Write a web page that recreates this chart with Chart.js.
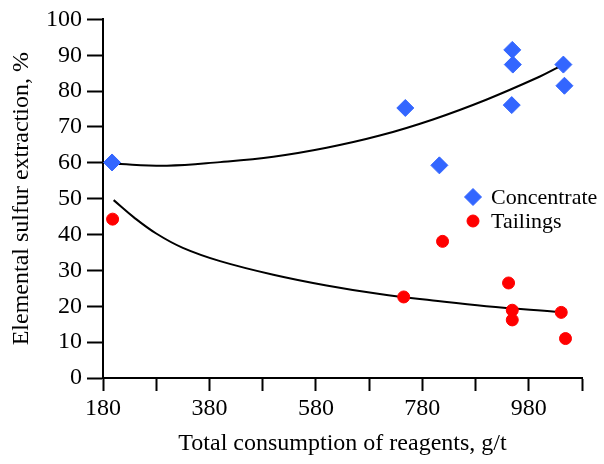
<!DOCTYPE html>
<html>
<head>
<meta charset="utf-8">
<script src="https://cdn.jsdelivr.net/npm/chart.js@4"></script>
<style>
  body { margin: 0; background: #fff; }
  #chart { display: block; }
</style>
</head>
<body>
<canvas id="chart" width="604" height="464"></canvas>
<script>
// Dados
const concX = [197, 748, 812, 949, 950, 948, 1045, 1047];
const concY = [60.1, 75.3, 59.3, 91.5, 87.4, 76.1, 87.4, 81.5];
const tailX = [198, 818, 745, 942, 949, 949, 1041, 1049];
const tailY = [44.3, 38.1, 22.6, 26.5, 18.9, 16.2, 18.3, 11.0];

// Linhas de tendência
const concTrendX = [197, 300, 400, 500, 600, 700, 800, 900, 1000, 1036];
const concTrendY = [59.8, 59.2, 60.2, 61.7, 64.2, 67.6, 72.1, 77.6, 84.0, 86.7];
const tailTrendX = [200, 238, 280, 330, 400, 500, 600, 700, 800, 900, 1030];
const tailTrendY = [49.6, 44.8, 40.3, 36.3, 32.6, 28.8, 25.8, 23.4, 21.6, 20.0, 18.5];

// Ticks
const xTicks = [180, 280, 380, 480, 580, 680, 780, 880, 980, 1080];
const xTickLabels = [180, 380, 580, 780, 980];

const seriesNames = ['Concentrate', 'Tailings'];
const xTitle = 'Total consumption of reagents, g/t';
const yTitle = 'Elemental sulfur extraction, %';

const toPoints = (xs, ys) => xs.map((x, i) => ({ x, y: ys[i] }));

const fonte = "'Liberation Serif', 'Times New Roman', serif";

// Legenda dentro da área do gráfico
const legendaInterna = {
  id: 'legendaInterna',
  afterDraw(chart) {
    const ctx = chart.ctx;
    const pos = [
      { x: 473, y: 197 },
      { x: 473, y: 221 }
    ];
    ctx.save();
    pos.forEach((p, i) => {
      const ds = chart.data.datasets[i];
      ctx.fillStyle = ds.backgroundColor;
      ctx.strokeStyle = ds.borderColor;
      Chart.helpers.drawPoint(ctx, {
        pointStyle: ds.pointStyle,
        radius: ds.pointRadius,
        rotation: 0,
        borderWidth: 1
      }, p.x, p.y);
      ctx.fillStyle = '#000';
      ctx.font = '22px ' + fonte;
      ctx.textBaseline = 'middle';
      ctx.textAlign = 'left';
      ctx.fillText(ds.label, 491, p.y + 1);
    });
    ctx.restore();
  }
};

const ctx = document.getElementById('chart').getContext('2d');

new Chart(ctx, {
  type: 'scatter',
  data: {
    datasets: [{
      label: seriesNames[0],
      data: toPoints(concX, concY),
      pointStyle: 'rectRot',
      pointRadius: 8.5,
      pointBorderWidth: 1,
      backgroundColor: '#3366FF',
      borderColor: '#3366FF'
    }, {
      label: seriesNames[1],
      data: toPoints(tailX, tailY),
      pointStyle: 'circle',
      pointRadius: 6,
      pointBorderWidth: 1,
      backgroundColor: '#FF0000',
      borderColor: '#FF0000'
    }, {
      label: 'trend1',
      data: toPoints(concTrendX, concTrendY),
      showLine: true,
      pointRadius: 0,
      borderColor: '#000',
      borderWidth: 2,
      tension: 0.4
    }, {
      label: 'trend2',
      data: toPoints(tailTrendX, tailTrendY),
      showLine: true,
      pointRadius: 0,
      borderColor: '#000',
      borderWidth: 2,
      tension: 0.4
    }]
  },
  options: {
    responsive: false,
    animation: false,
    layout: {
      padding: { left: 0, right: 22, top: 13, bottom: 0 }
    },
    plugins: {
      legend: { display: false },
      tooltip: { enabled: false }
    },
    scales: {
      x: {
        type: 'linear',
        min: 180,
        max: 1080,
        afterBuildTicks: scale => {
          scale.ticks = xTicks.map(v => ({ value: v }));
        },
        afterFit: scale => {
          scale.height = 86;
        },
        ticks: {
          autoSkip: false,
          maxRotation: 0,
          color: '#000',
          padding: 3,
          font: { family: fonte, size: 24 },
          callback: v => xTickLabels.includes(v) ? String(v) : ''
        },
        grid: {
          drawOnChartArea: false,
          tickLength: 13,
          tickWidth: 2,
          tickColor: '#000'
        },
        border: { color: '#000', width: 2 },
        title: {
          display: true,
          text: xTitle,
          color: '#000',
          font: { family: fonte, size: 24 },
          padding: { top: 0, bottom: 6 }
        }
      },
      y: {
        min: 0,
        max: 100,
        afterFit: scale => {
          scale.width = 103;
        },
        ticks: {
          stepSize: 10,
          color: '#000',
          padding: 5,
          font: { family: fonte, size: 24 }
        },
        grid: {
          drawOnChartArea: false,
          tickLength: 16,
          tickWidth: 2,
          tickColor: '#000'
        },
        border: { color: '#000', width: 2 },
        title: {
          display: true,
          text: yTitle,
          color: '#000',
          font: { family: fonte, size: 24 },
          padding: { top: 7, bottom: 0 }
        }
      }
    }
  },
  plugins: [legendaInterna]
});
</script>
</body>
</html>
